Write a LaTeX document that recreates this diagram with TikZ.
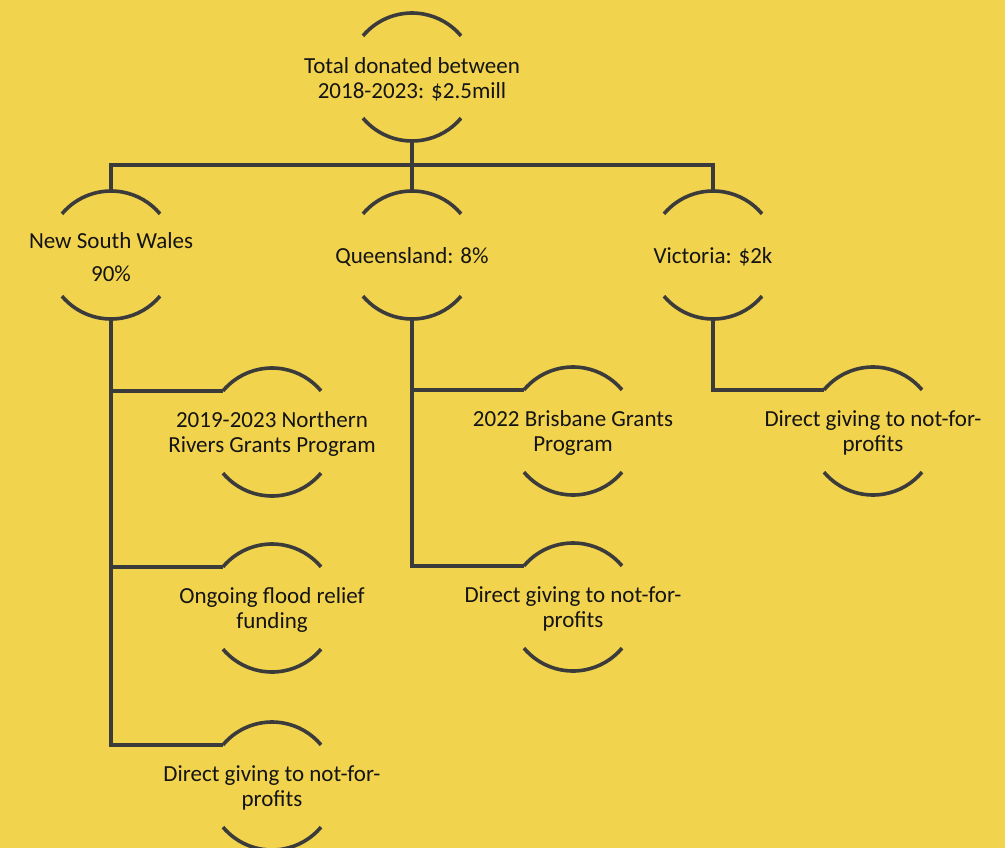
\documentclass[tikz,border=0pt]{standalone}
\usepackage{fontspec}
\setmainfont{Carlito}
\usetikzlibrary{positioning}
\definecolor{bgyellow}{HTML}{F2D34E}
\definecolor{linegray}{HTML}{3B3B3B}
\definecolor{txtblack}{HTML}{141414}
\tikzset{
    bubble/.style = {circle, minimum size=128pt, inner sep=0pt, outer sep=0pt},
    txt/.style = {align=center, text=txtblack, yshift=-2pt, font=\fontsize{23}{25}\selectfont},
    conn/.style = {line width=3.6pt, draw=linegray},
    arcline/.style = {line width=3.6pt, draw=linegray}
}

\begin{document}
\begin{tikzpicture}[on grid]
        % Background
        \fill[bgyellow] (0,0) rectangle (1005pt,-848pt);
        \useasboundingbox (0,0) rectangle (1005pt,-848pt);

        % Nodes
        \node[bubble, label={[txt]center:{Total donated between\\2018-2023: \$2.5mill}}] (total) at (412pt,-77pt) {};
        \node[bubble, below=178pt of total, label={[txt]center:{Queensland: 8\%}}] (qld) {};
        \node[bubble, left=301pt of qld, label={[txt]center:{New South Wales\\[8pt]90\%}}] (nsw) {};
        \node[bubble, right=301pt of qld, label={[txt]center:{Victoria: \$2k}}] (vic) {};

        \node[bubble, below right=177pt and 161pt of nsw, label={[txt]center:{2019-2023 Northern\\Rivers Grants Program}}] (nr) {};
        \node[bubble, below=176pt of nr, label={[txt]center:{Ongoing flood relief\\funding}}] (flood) {};
        \node[bubble, below=178pt of flood, label={[txt]center:{Direct giving to not-for-\\profits}}] (dnsw) {};

        \node[bubble, below right=176pt and 161pt of qld, label={[txt]center:{2022 Brisbane Grants\\Program}}] (bris) {};
        \node[bubble, below=176pt of bris, label={[txt]center:{Direct giving to not-for-\\profits}}] (dqld) {};

        \node[bubble, below right=176pt and 160pt of vic, label={[txt]center:{Direct giving to not-for-\\profits}}] (dvic) {};

        % Arcs
        \foreach \n in {total,nsw,qld,vic,nr,flood,dnsw,bris,dqld,dvic}{
            \draw[arcline] (\n.140) arc[start angle=140, end angle=40, radius=64pt];
            \draw[arcline] (\n.220) arc[start angle=220, end angle=320, radius=64pt];
        }

        % Edges
        \draw[conn] (total.south) -- (qld.north);
        \draw[conn] (total.south) -- ++(0,-24pt) -| (nsw.north);
        \draw[conn] (total.south) -- ++(0,-24pt) -| (vic.north);

        \draw[conn] (nsw.south) |- (nr.140);
        \draw[conn] (nsw.south) |- (flood.140);
        \draw[conn] (nsw.south) |- (dnsw.140);

        \draw[conn] (qld.south) |- (bris.140);
        \draw[conn] (qld.south) |- (dqld.140);

        \draw[conn] (vic.south) |- (dvic.140);

    \end{tikzpicture}
\end{document}
